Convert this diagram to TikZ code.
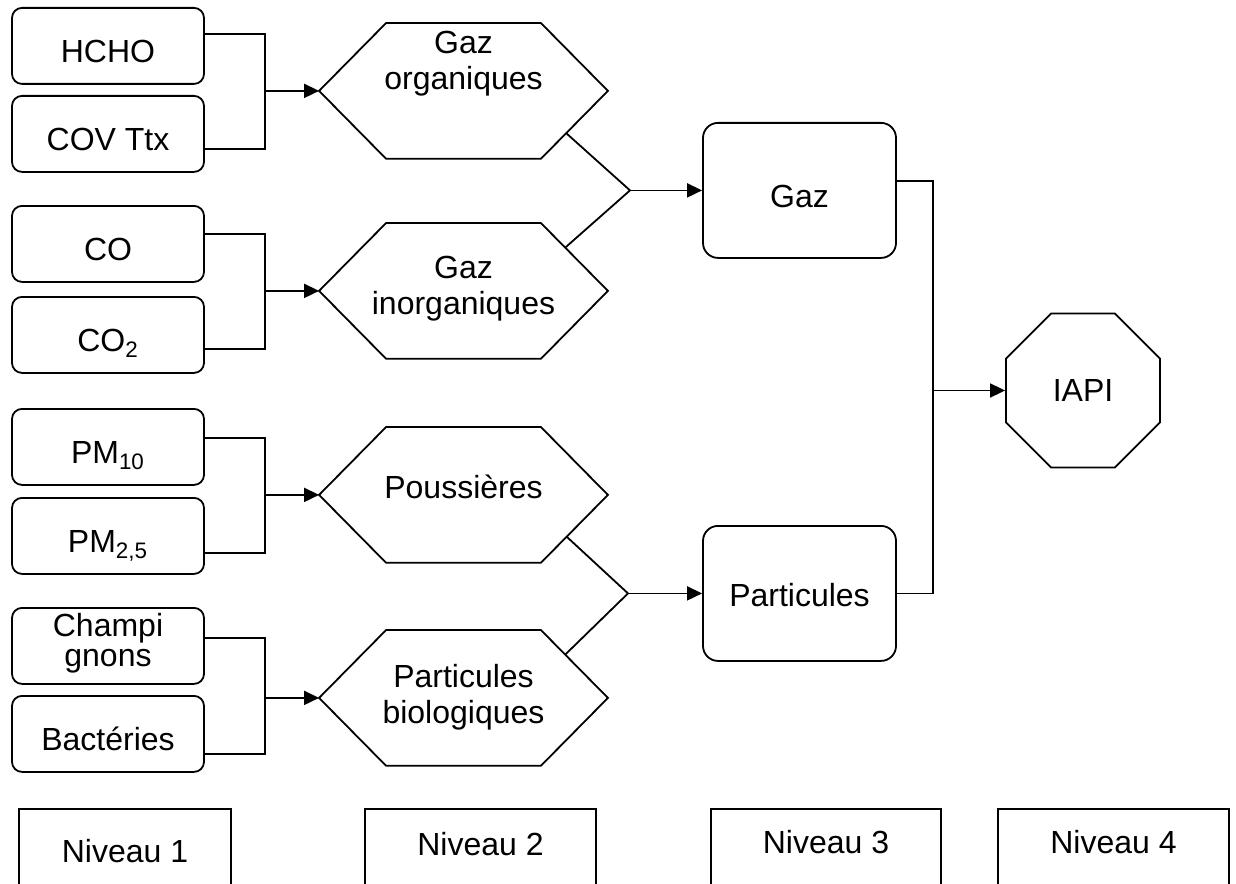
\documentclass[tikz,border=0pt]{standalone}
\usepackage{fontspec}
\setmainfont{Liberation Sans}
\usetikzlibrary{arrows.meta, shapes.geometric}

\begin{document}
\begin{tikzpicture}[x=0.5pt, y=-0.5pt, line width=0.9pt,
    font=\fontsize{16pt}{18pt}\selectfont,
    >={Triangle[length=7.5pt,width=7pt]},
    feuille/.style={draw, rounded corners=5pt, anchor=north, minimum width=96pt,
      inner ysep=0pt, text height=27.5pt, text depth=10.5pt},
    hexa/.style={anchor=north, minimum width=143.5pt, inner ysep=0pt, align=center},
    groupe/.style={draw, rounded corners=7.5pt, anchor=north, minimum width=96.5pt, inner ysep=0pt},
    niveau/.style={draw, anchor=north, inner ysep=0pt, text depth=40pt}]
    % Cadre della figura
    \path[use as bounding box, clip] (0,0) rectangle (1236,883);

    % Niveau 1
    \node[feuille] (hcho) at (108,7) {HCHO};
    \node[feuille] (cov) at (108,95) {COV Ttx};
    \node[feuille] (co) at (108,205) {CO};
    \node[feuille] (co2) at (108,296) {CO\textsubscript{2}};
    \node[feuille] (pm10) at (108,408) {PM\textsubscript{10}};
    \node[feuille] (pm25) at (108,497) {PM\textsubscript{2,5}};
    \node[feuille, align=center, font=\fontsize{16pt}{15pt}\selectfont,
      text height=29.5pt, text depth=8.5pt] (champ) at (108,607) {Champi\\gnons};
    \node[feuille] (bact) at (108,695) {Bactéries};

    % Niveau 2
    \node[hexa, text height=33pt, text depth=34pt] (gorg) at (463.5,23) {Gaz\\organiques};
    \node[hexa, text height=45.5pt, text depth=21.5pt] (ginorg) at (463.5,223) {Gaz\\inorganiques};
    \node[hexa, text height=35.5pt, text depth=31.5pt] (pous) at (463.5,427) {Poussières};
    \node[hexa, text height=46.5pt, text depth=20.5pt] (pbio) at (463.5,630) {Particules\\biologiques};
    \foreach \h in {gorg,ginorg,pous,pbio}
        \draw (\h.west) -- ([xshift=33.5pt]\h.north west) -- ([xshift=-33.5pt]\h.north east)
        -- (\h.east) -- ([xshift=-33.5pt]\h.south east) -- ([xshift=33.5pt]\h.south west) -- cycle;

    % Niveau 3 e 4
    \node[groupe, text height=42.5pt, text depth=25pt] (gaz) at (799.5,122) {Gaz};
    \node[groupe, text height=40.5pt, text depth=27pt] (part) at (799.5,525) {Particules};
    \node[draw, regular polygon, regular polygon sides=8, minimum size=83.35pt] (iapi) at (1083,390.5) {IAPI};

    % Collegamenti verso il livello 2
    \coordinate (j1) at (265,0 |- gorg.west);
    \coordinate (j2) at (265,0 |- ginorg.west);
    \coordinate (j3) at (265,0 |- pous.west);
    \coordinate (j4) at (265,0 |- pbio.west);
    \draw ([yshift=6pt]hcho.east) -| (j1) |- ([yshift=-7.5pt]cov.east);
    \draw ([yshift=5pt]co.east) -| (j2) |- ([yshift=-7pt]co2.east);
    \draw ([yshift=4.5pt]pm10.east) -| (j3) |- ([yshift=-8.5pt]pm25.east);
    \draw ([yshift=4pt]champ.east) -| (j4) |- ([yshift=-10pt]bact.east);
    \draw[->] (j1) -- (gorg.west);
    \draw[->] (j2) -- (ginorg.west);
    \draw[->] (j3) -- (pous.west);
    \draw[->] (j4) -- (pbio.west);

    % Collegamenti verso il livello 3
    \coordinate (k1) at (630,0 |- gaz.west);
    \coordinate (k2) at (628,0 |- part.west);
    \draw ([shift={(-42,42)}]gorg.east) -- (k1) -- ([shift={(-43,-43)}]ginorg.east);
    \draw ([shift={(-41,42)}]pous.east) -- (k2) -- ([shift={(-43,-43)}]pbio.east);
    \draw[->] (k1) -- (gaz.west);
    \draw[->] (k2) -- (part.west);

    % Collegamento verso IAPI
    \coordinate (bus) at (933,0 |- iapi.west);
    \draw ([yshift=4.75pt]gaz.east) -| (bus) |- (part.east);
    \draw[->] (bus) -- (iapi.west);

    % Etichette dei livelli
    \node[niveau, minimum width=106pt, text height=27pt] (n1) at (125,808) {Niveau 1};
    \node[niveau, minimum width=115.5pt, text height=23.5pt] (n2) at (480.5,808) {Niveau 2};
    \node[niveau, minimum width=115pt, text height=22.5pt] (n3) at (826,808) {Niveau 3};
    \node[niveau, minimum width=115.5pt, text height=22.5pt] (n4) at (1113.5,808) {Niveau 4};
\end{tikzpicture}
\end{document}
